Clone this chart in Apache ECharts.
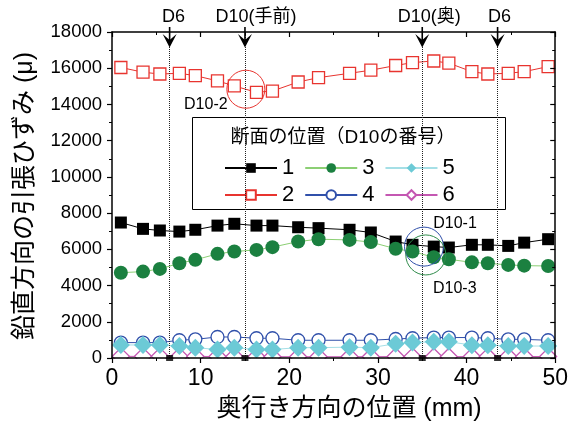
<!DOCTYPE html>
<html>
<head>
<meta charset="utf-8">
<script src="https://cdn.jsdelivr.net/npm/echarts@6/dist/echarts.min.js"></script>
<style>
html, body { margin: 0; padding: 0; background: #fff; }
#chart { width: 571px; height: 423px; }
</style>
</head>
<body>
<div id="chart"></div>
<script>
// Depth position of each gauge (mm)
const depthX = [1.0, 3.5, 5.4, 7.6, 9.4, 11.9, 13.8, 16.3, 18.1, 21.0, 23.3, 26.8, 29.2, 32.0, 33.9, 36.3, 38.0, 40.6, 42.4, 44.7, 46.5, 49.2];

// Vertical tensile strain (μ) for each section position (D10 number)
const strain1 = [7480, 7130, 7040, 6980, 7080, 7310, 7410, 7310, 7310, 7220, 7170, 7080, 6930, 6430, 6250, 6150, 6100, 6250, 6250, 6190, 6370, 6560];
const strain2 = [16040, 15780, 15680, 15720, 15590, 15300, 15020, 14670, 14740, 15240, 15480, 15720, 15890, 16150, 16310, 16400, 16280, 15810, 15680, 15720, 15810, 16090];
const strain3 = [4710, 4770, 4920, 5230, 5420, 5750, 5880, 5970, 6120, 6430, 6560, 6520, 6400, 6030, 5880, 5560, 5450, 5280, 5230, 5140, 5100, 5080];
const strain4 = [850, 850, 850, 980, 1030, 1160, 1160, 1090, 1090, 980, 980, 980, 980, 1050, 1090, 1130, 1130, 1130, 1090, 1030, 1030, 980];
const strain5 = [720, 720, 720, 660, 570, 470, 570, 470, 470, 570, 570, 600, 570, 790, 850, 900, 900, 710, 710, 660, 660, 660];
const strain6 = [90, 90, 90, 90, 90, 80, 80, 70, 70, 70, 70, 70, 70, 80, 80, 70, 70, 80, 80, 80, 80, 80];

// Rebar positions marked above the plot
const guideX = [6.5, 15, 35, 43.5];
const guideText = ['D6', 'D10(手前)', 'D10(奥)', 'D6'];

// Highlighted gauges (circled)
const ringNames = ['D10-2', 'D10-1', 'D10-3'];
const ringCenter = [[15.1, 14840], [35.2, 6150], [35.4, 5690]];

// Axis ticks
const xTicks = { min: 0, max: 50, step: 10 };
const yTicks = { min: 0, max: 18000, step: 2000 };

const FONT = "'Liberation Sans', 'Noto Sans CJK JP', sans-serif";

const pairs = ys => depthX.map((x, i) => [x, ys[i]]);

function lineSeries(name, ys, symbol, size, fill, stroke, lineColor) {
  return {
    name: name,
    type: 'line',
    data: pairs(ys),
    symbol: symbol,
    symbolSize: size,
    showAllSymbol: true,
    itemStyle: { color: fill, borderColor: stroke, borderWidth: fill === '#ffffff' ? 1.3 : 0, opacity: 1 },
    lineStyle: { color: lineColor, width: 1 },
    emphasis: { disabled: true }
  };
}

const series = [
  lineSeries('2', strain2, 'rect', 12, '#ffffff', '#e8342f', '#e8342f'),
  lineSeries('1', strain1, 'rect', 12, '#000000', '#000000', '#000000'),
  lineSeries('3', strain3, 'circle', 14, '#1b8040', '#1b8040', '#8ccf74'),
  lineSeries('4', strain4, 'circle', 13, '#ffffff', '#3050aa', '#3050aa'),
  lineSeries('6', strain6, 'diamond', 17, '#ffffff', '#c457b2', '#c457b2'),
  lineSeries('5', strain5, 'diamond', 18, '#6ccad6', '#6ccad6', '#a5dfe6'),
  {
    name: 'guides',
    type: 'scatter',
    data: guideX.map(x => [x, 0]),
    symbol: 'rect',
    symbolSize: [7, 6],
    itemStyle: { color: '#000' },
    z: 6,
    silent: true
  }
];
// dotted guide lines through the grid
series[1].markLine = {
  silent: true,
  symbol: ['none', 'none'],
  label: { show: false },
  lineStyle: { type: 'dotted', color: '#222', width: 1 },
  data: guideX.map(x => ({ xAxis: x }))
};

const legendCommon = {
  left: 224,
  itemWidth: 52,
  itemHeight: 12,
  itemGap: 10,
  padding: 0,
  selectedMode: false,
  textStyle: { fontSize: 22, color: '#000', fontFamily: FONT }
};

const axisLineStyle = { color: '#000', width: 1.5 };

const option = {
  animation: false,
  backgroundColor: '#fff',
  grid: { left: 112, right: 13, top: 32, bottom: 65 },
  legend: [
    Object.assign({ data: ['1', '3', '5'], top: 157 }, legendCommon),
    Object.assign({ data: ['2', '4', '6'], top: 184 }, legendCommon)
  ],
  xAxis: [
    {
      type: 'value', position: 'bottom', min: xTicks.min, max: xTicks.max, interval: xTicks.step, z: 10,
      axisLine: { onZero: false, lineStyle: axisLineStyle },
      axisTick: { inside: false, length: 5, lineStyle: { color: '#000', width: 1.2 } },
      minorTick: { show: true, splitNumber: 2, length: 3, lineStyle: { color: '#000', width: 1 } },
      axisLabel: { fontSize: 23, color: '#000', fontFamily: FONT, margin: 9 },
      splitLine: { show: false }
    },
    {
      type: 'value', position: 'top', min: xTicks.min, max: xTicks.max, interval: xTicks.step, z: 10,
      axisLine: { onZero: false, lineStyle: axisLineStyle },
      axisTick: { inside: true, length: 5, lineStyle: { color: '#000', width: 1.2 } },
      minorTick: { show: true, splitNumber: 2, length: 3, lineStyle: { color: '#000', width: 1 } },
      axisLabel: { show: false },
      splitLine: { show: false }
    }
  ],
  yAxis: [
    {
      type: 'value', position: 'left', min: yTicks.min, max: yTicks.max, interval: yTicks.step, z: 10,
      axisLine: { show: true, onZero: false, lineStyle: axisLineStyle },
      axisTick: { show: true, inside: false, length: 5, lineStyle: { color: '#000', width: 1.2 } },
      minorTick: { show: true, splitNumber: 2, length: 3, lineStyle: { color: '#000', width: 1 } },
      axisLabel: { fontSize: 18.5, color: '#000', fontFamily: FONT, margin: 10, formatter: v => String(v) },
      splitLine: { show: false }
    },
    {
      type: 'value', position: 'right', min: yTicks.min, max: yTicks.max, interval: yTicks.step, z: 10,
      axisLine: { show: true, onZero: false, lineStyle: axisLineStyle },
      axisTick: { show: true, inside: true, length: 5, lineStyle: { color: '#000', width: 1.2 } },
      minorTick: { show: true, splitNumber: 2, length: 3, lineStyle: { color: '#000', width: 1 } },
      axisLabel: { show: false },
      splitLine: { show: false }
    }
  ],
  series: series
};

const chart = echarts.init(document.getElementById('chart'), null, { renderer: 'canvas' });
chart.setOption(option);

// Annotations placed through the chart's own coordinate conversion
const toPx = p => chart.convertToPixel({ seriesIndex: 0 }, p);
const gridTop = toPx([0, yTicks.max])[1];
const gridBottom = toPx([0, yTicks.min])[1];
const gridLeft = toPx([xTicks.min, 0])[0];
const gridRight = toPx([xTicks.max, 0])[0];

const graphics = [];

// mask below the baseline so the near-zero diamonds read as clipped
graphics.push({
  type: 'rect', z: 5, silent: true,
  shape: { x: gridLeft - 3, y: gridBottom + 0.8, width: gridRight - gridLeft + 6, height: 10 },
  style: { fill: '#fff' }
});

// legend frame and heading
graphics.push({
  type: 'rect', z: 3, silent: true,
  shape: { x: 192.5, y: 117.5, width: 313, height: 92 },
  style: { fill: '#fff', stroke: '#000', lineWidth: 1 }
});
graphics.push({
  type: 'text', z: 5, silent: true, x: 343, y: 138,
  style: { text: '断面の位置（D10の番号）', font: '19px ' + FONT, fill: '#000',
           textAlign: 'center', textVerticalAlign: 'middle', align: 'center', verticalAlign: 'middle' }
});

// arrows and labels for the rebar positions
const labelShift = [4, 11, 7, 2];
guideX.forEach((gx, i) => {
  const x = toPx([gx, 0])[0];
  graphics.push({
    type: 'line', z: 8, silent: true,
    shape: { x1: x, y1: gridTop - 5, x2: x, y2: gridTop + 12 },
    style: { stroke: '#000', lineWidth: 1.6 }
  });
  graphics.push({
    type: 'polygon', z: 8, silent: true,
    shape: { points: [[x - 7, gridTop + 2], [x, gridTop + 15.5], [x + 7, gridTop + 2], [x, gridTop + 8]] },
    style: { fill: '#000' }
  });
  graphics.push({
    type: 'text', z: 8, silent: true, x: x + labelShift[i], y: 17,
    style: { text: guideText[i], font: '18px ' + FONT, fill: '#000',
             textAlign: 'center', textVerticalAlign: 'middle', align: 'center', verticalAlign: 'middle' }
  });
});

// circled gauges and their names
const ringColor = ['#e8342f', '#3050aa', '#2e8b4a'];
const ringRadius = [19, 19.5, 20];
const ringLabelShift = [[-40, 15], [31, -23], [29, 34]];
ringCenter.forEach((c, i) => {
  const p = toPx(c);
  graphics.push({
    type: 'circle', z: 7, silent: true,
    shape: { cx: p[0], cy: p[1], r: ringRadius[i] },
    style: { fill: null, stroke: ringColor[i], lineWidth: 1 }
  });
  graphics.push({
    type: 'text', z: 7, silent: true, x: p[0] + ringLabelShift[i][0], y: p[1] + ringLabelShift[i][1],
    style: { text: ringNames[i], font: '16px ' + FONT, fill: '#000',
             textAlign: 'center', textVerticalAlign: 'middle', align: 'center', verticalAlign: 'middle' }
  });
});

// axis titles
graphics.push({
  type: 'text', z: 8, silent: true, x: 349, y: 409,
  style: { text: '奥行き方向の位置 (mm)', font: '25px ' + FONT, fill: '#000',
           textAlign: 'center', textVerticalAlign: 'middle', align: 'center', verticalAlign: 'middle' }
});
graphics.push({
  type: 'text', z: 8, silent: true, x: 25, y: 196, rotation: Math.PI / 2,
  style: { text: '鉛直方向の引張ひずみ (μ)', font: '25px ' + FONT, fill: '#000',
           textAlign: 'center', textVerticalAlign: 'middle', align: 'center', verticalAlign: 'middle' }
});

chart.setOption({ graphic: { elements: graphics } });
</script>
</body>
</html>
